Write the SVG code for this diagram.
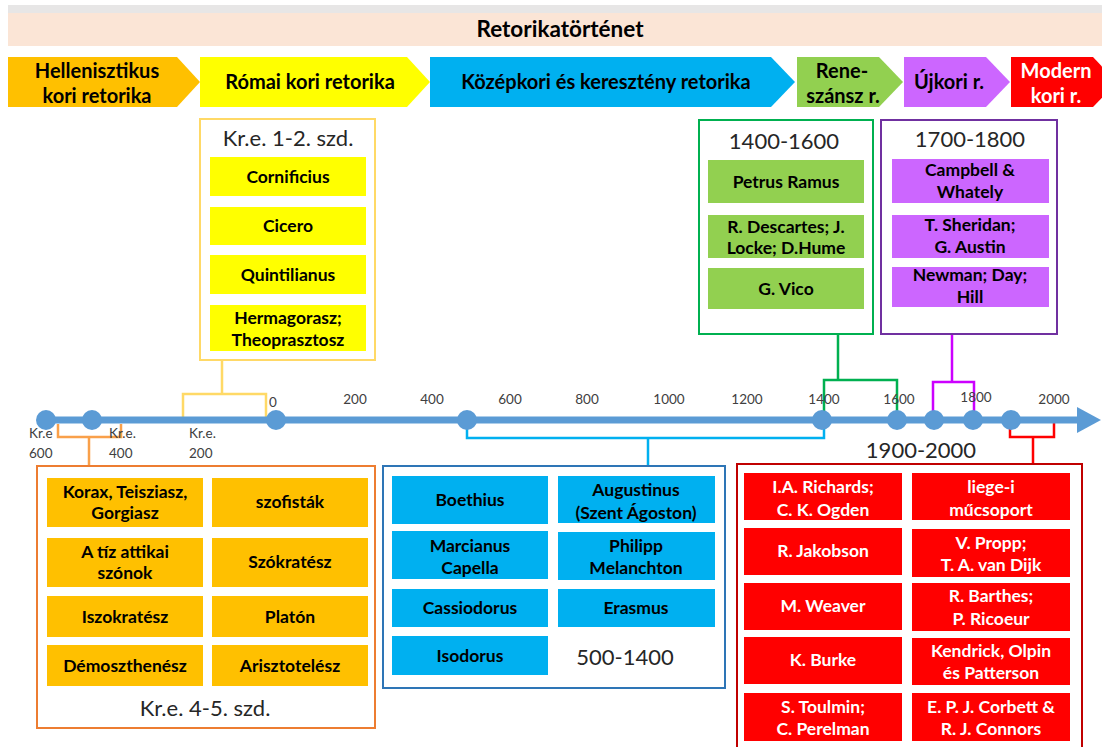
<svg xmlns="http://www.w3.org/2000/svg" width="1102" height="747" viewBox="0 0 1102 747">
<style>
text{font-family:Lato,"Open Sans","Liberation Sans",sans-serif;text-anchor:middle}
.b{font-weight:700;font-size:17.5px;fill:#000}
.w{font-weight:700;font-size:17.5px;fill:#fff}
.ch{font-weight:700;font-size:20px;fill:#000}
.chw{font-weight:700;font-size:20px;fill:#fff}
.gt{font-size:22px;fill:#262626}
.tl{font-size:13.5px;fill:#404040}
.tlb{font-size:13.5px;fill:#404040;text-anchor:start}
.frame{fill:#fff;stroke-width:2}
.con{fill:none;stroke-width:2.5}
</style>
<rect x="8" y="5" width="1094" height="8" fill="#E7E6E6"/>
<rect x="8" y="13" width="1094" height="33" fill="#FBE5D6"/>
<text x="560" y="37" style="font-weight:700;font-size:22.5px;fill:#000">Retorikatörténet</text>

<g id="period-hellen"><polygon points="8,57 177,57 200,82 177,107 8,107" fill="#FFC000"/><text class="ch" x="97" y="78">Hellenisztikus</text><text class="ch" x="97" y="103">kori retorika</text></g>
<g id="period-romai"><polygon points="200,57 407,57 430,82 407,107 200,107" fill="#FFFF00"/><text class="ch" x="310" y="89">Római kori retorika</text></g>
<g id="period-kozep"><polygon points="430,57 771,57 795,82 771,107 430,107" fill="#00B0F0"/><text class="ch" x="606" y="89">Középkori és keresztény retorika</text></g>
<g id="period-rene"><polygon points="797,57 879,57 903,82 879,107 797,107" fill="#92D050"/><text class="ch" x="842" y="78">Rene-</text><text class="ch" x="843" y="103">szánsz r.</text></g>
<g id="period-ujkori"><polygon points="904,57 986,57 1010,82 986,107 904,107" fill="#CC66FF"/><text class="ch" x="949" y="89">Újkori r.</text></g>
<g id="period-modern"><polygon points="1011,57 1093,57 1117,82 1093,107 1011,107" fill="#FF0000"/><text class="chw" x="1056" y="78">Modern</text><text class="chw" x="1056" y="103">kori r.</text></g>

<g id="connectors">
<path class="con" stroke="#FFD966" d="M222,360 V394 M183,418 V394 H266 V418"/>
<path class="con" stroke="#F9A04A" d="M58,424 V437 H121 V424 M89,437 V466"/>
<path class="con" stroke="#00B0F0" d="M467,424 V438 H824 V424 M648,438 V466"/>
<path class="con" stroke="#00B050" d="M838,334 V380 M824,412 V380 H897 V412"/>
<path class="con" stroke="#CC00FF" d="M952,334 V382 M933,412 V382 H974 V412"/>
<path class="con" stroke="#FF0000" stroke-width="3" d="M1010,424 V437 H1054 V422 M1033,437 V464"/>
</g>

<g id="timeline">
<line x1="38" y1="420" x2="1080" y2="420" stroke="#5B9BD5" stroke-width="7"/>
<polygon points="1077,407 1101,420 1077,433" fill="#5B9BD5"/>
<g fill="#5B9BD5">
<circle cx="46" cy="420" r="10"/><circle cx="92" cy="420" r="10"/><circle cx="276" cy="420" r="10"/><circle cx="467" cy="420" r="10"/><circle cx="822" cy="420" r="10"/><circle cx="897" cy="420" r="10"/><circle cx="934" cy="420" r="10"/><circle cx="973" cy="420" r="10"/><circle cx="1011" cy="420" r="10"/>
</g>
<text class="tl" x="273" y="407">0</text>
<text class="tl" x="355" y="404">200</text>
<text class="tl" x="432" y="404">400</text>
<text class="tl" x="510" y="404">600</text>
<text class="tl" x="587" y="404">800</text>
<text class="tl" x="669" y="404">1000</text>
<text class="tl" x="747" y="404">1200</text>
<text class="tl" x="824" y="404">1400</text>
<text class="tl" x="899" y="404">1600</text>
<text class="tl" x="976" y="402">1800</text>
<text class="tl" x="1054" y="404">2000</text>
<text class="tlb" x="29" y="438">Kr.e</text><text class="tlb" x="29" y="458">600</text>
<text class="tlb" x="109" y="438">Kr.e.</text><text class="tlb" x="109" y="458">400</text>
<text class="tlb" x="189" y="438">Kr.e.</text><text class="tlb" x="189" y="458">200</text>
</g>

<g id="group-kre12">
<rect class="frame" x="200" y="119" width="175" height="241" stroke="#FFD966"/>
<text class="gt" x="288" y="146">Kr.e. 1-2. szd.</text>
<g fill="#FFFF00">
<rect x="210" y="157" width="156" height="39"/><rect x="210" y="207" width="156" height="38"/><rect x="210" y="255" width="156" height="39"/><rect x="210" y="305" width="156" height="46"/>
</g>
<text class="b" x="288" y="183">Cornificius</text>
<text class="b" x="288" y="232">Cicero</text>
<text class="b" x="288" y="281">Quintilianus</text>
<text class="b" x="288" y="324">Hermagorasz;</text><text class="b" x="288" y="346">Theoprasztosz</text>
</g>

<g id="group-1400-1600">
<rect class="frame" x="699" y="120" width="174" height="214" stroke="#00B050"/>
<text class="gt" x="784" y="149">1400-1600</text>
<g fill="#92D050">
<rect x="708" y="160" width="156" height="43"/><rect x="708" y="215" width="156" height="43"/><rect x="708" y="268" width="156" height="41"/>
</g>
<text class="b" x="786" y="188">Petrus Ramus</text>
<text class="b" x="786" y="233">R. Descartes; J.</text><text class="b" x="786" y="254">Locke; D.Hume</text>
<text class="b" x="786" y="295">G. Vico</text>
</g>

<g id="group-1700-1800">
<rect class="frame" x="881" y="120" width="176" height="214" stroke="#7030A0"/>
<text class="gt" x="970" y="147">1700-1800</text>
<g fill="#CC66FF">
<rect x="892" y="159" width="157" height="44"/><rect x="892" y="215" width="157" height="43"/><rect x="892" y="267" width="157" height="40"/>
</g>
<text class="b" x="970" y="176">Campbell &amp;</text><text class="b" x="970" y="198">Whately</text>
<text class="b" x="970" y="231">T. Sheridan;</text><text class="b" x="970" y="253">G. Austin</text>
<text class="b" x="970" y="281">Newman; Day;</text><text class="b" x="970" y="303">Hill</text>
</g>

<g id="group-kre45">
<rect class="frame" x="37" y="466" width="338" height="262" stroke="#ED7D31"/>
<g fill="#FFC000">
<rect x="47" y="478" width="156" height="49"/><rect x="212" y="478" width="156" height="49"/>
<rect x="47" y="538" width="156" height="49"/><rect x="212" y="538" width="156" height="49"/>
<rect x="47" y="596" width="156" height="41"/><rect x="212" y="596" width="156" height="41"/>
<rect x="47" y="645" width="156" height="41"/><rect x="212" y="645" width="156" height="41"/>
</g>
<text class="b" x="125" y="498">Korax, Teisziasz,</text><text class="b" x="125" y="519">Gorgiasz</text>
<text class="b" x="290" y="508">szofisták</text>
<text class="b" x="125" y="558">A tíz attikai</text><text class="b" x="125" y="579">szónok</text>
<text class="b" x="290" y="568">Szókratész</text>
<text class="b" x="125" y="623">Iszokratész</text>
<text class="b" x="290" y="623">Platón</text>
<text class="b" x="125" y="672">Démoszthenész</text>
<text class="b" x="290" y="672">Arisztotelész</text>
<text class="gt" x="205" y="716">Kr.e. 4-5. szd.</text>
</g>

<g id="group-500-1400">
<rect class="frame" x="383" y="466" width="342" height="222" stroke="#2E75B6"/>
<g fill="#00B0F0">
<rect x="392" y="476" width="156" height="48"/><rect x="558" y="476" width="157" height="47"/>
<rect x="392" y="531" width="156" height="48"/><rect x="558" y="532" width="157" height="48"/>
<rect x="392" y="589" width="156" height="38"/><rect x="558" y="589" width="157" height="38"/>
<rect x="392" y="636" width="156" height="39"/>
</g>
<text class="b" x="470" y="506">Boethius</text>
<text class="b" x="636" y="496">Augustinus</text><text class="b" x="636" y="519">(Szent Ágoston)</text>
<text class="b" x="470" y="552">Marcianus</text><text class="b" x="470" y="574">Capella</text>
<text class="b" x="636" y="552">Philipp</text><text class="b" x="636" y="574">Melanchton</text>
<text class="b" x="470" y="614">Cassiodorus</text>
<text class="b" x="636" y="614">Erasmus</text>
<text class="b" x="470" y="662">Isodorus</text>
<text class="gt" x="625" y="665">500-1400</text>
</g>

<g id="group-1900-2000">
<text class="gt" x="921" y="458">1900-2000</text>
<rect class="frame" x="737" y="464" width="345" height="295" stroke="#C00000"/>
<g fill="#FF0000">
<rect x="744" y="473" width="158" height="47"/><rect x="912" y="473" width="158" height="47"/>
<rect x="744" y="528" width="158" height="47"/><rect x="912" y="529" width="158" height="48"/>
<rect x="744" y="583" width="158" height="47"/><rect x="912" y="583" width="158" height="48"/>
<rect x="744" y="637" width="158" height="47"/><rect x="912" y="638" width="158" height="47"/>
<rect x="744" y="693" width="158" height="48"/><rect x="912" y="693" width="158" height="48"/>
</g>
<text class="w" x="823" y="493">I.A. Richards;</text><text class="w" x="823" y="516">C. K. Ogden</text>
<text class="w" x="991" y="493">liege-i</text><text class="w" x="991" y="516">műcsoport</text>
<text class="w" x="823" y="557">R. Jakobson</text>
<text class="w" x="991" y="549">V. Propp;</text><text class="w" x="991" y="571">T. A. van Dijk</text>
<text class="w" x="823" y="612">M. Weaver</text>
<text class="w" x="991" y="602">R. Barthes;</text><text class="w" x="991" y="625">P. Ricoeur</text>
<text class="w" x="823" y="666">K. Burke</text>
<text class="w" x="991" y="657">Kendrick, Olpin</text><text class="w" x="991" y="679">és Patterson</text>
<text class="w" x="823" y="713">S. Toulmin;</text><text class="w" x="823" y="735">C. Perelman</text>
<text class="w" x="991" y="713">E. P. J. Corbett &amp;</text><text class="w" x="991" y="735">R. J. Connors</text>
</g>
</svg>
